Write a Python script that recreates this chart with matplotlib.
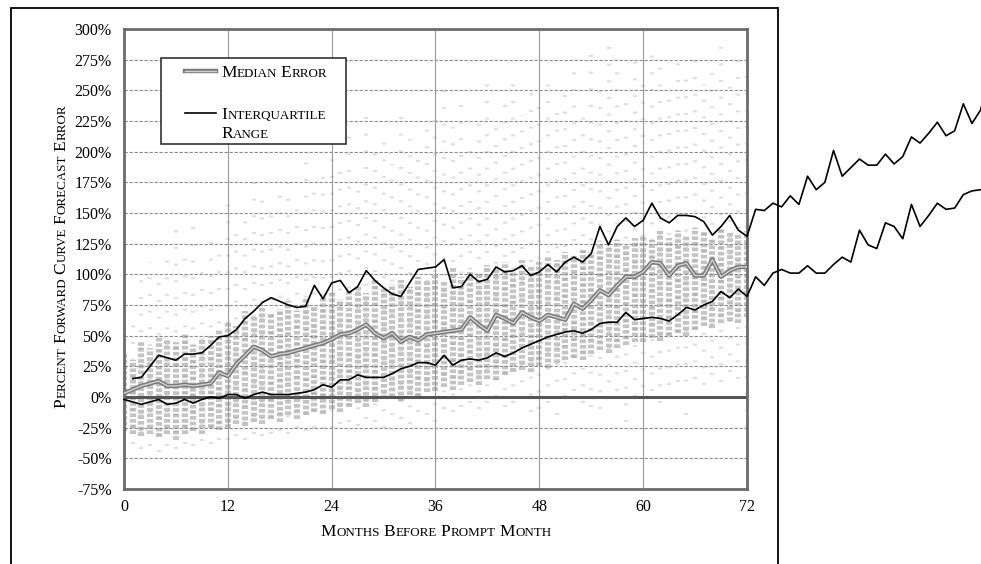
import numpy as np
import matplotlib
matplotlib.use('Agg')
import matplotlib.pyplot as plt
from matplotlib.patches import Rectangle
from matplotlib.ticker import FuncFormatter

# ---- data (percent forward curve forecast error) ----
months = np.arange(0, 73)
median_err = [3, 6, 9, 11, 13, 9, 9, 10, 9, 10,
              11, 20, 17, 27, 34, 41, 38, 33, 35, 36,
              38, 40, 42, 44, 47, 51, 52, 55, 59, 52,
              48, 52, 45, 49, 46, 51, 52, 53, 54, 55,
              65, 59, 54, 67, 64, 60, 69, 65, 62, 67,
              65, 63, 76, 72, 79, 87, 83, 91, 98, 98,
              102, 110, 109, 99, 107, 109, 99, 99, 112, 98,
              103, 106, 106]

upper_months = np.arange(1, 101)
iqr_upper = [15, 16, 25, 34, 32, 30, 35, 35, 36, 42,
             49, 50, 55, 64, 70, 77, 81, 78, 75, 73,
             74, 91, 80, 93, 95, 85, 90, 103, 95, 89,
             84, 82, 93, 104, 105, 106, 112, 89, 90, 100,
             94, 96, 106, 102, 103, 107, 99, 102, 108, 102,
             110, 114, 110, 117, 139, 124, 139, 146, 139, 144,
             158, 146, 142, 148, 148, 147, 143, 132, 139, 148,
             136, 131, 153, 152, 158, 155, 164, 157, 180, 169,
             175, 201, 180, 187, 194, 189, 189, 198, 190, 196,
             212, 207, 215, 224, 213, 217, 239, 223, 234, 262]

lower_months = np.arange(0, 101)
iqr_lower = [-2, -4, -6, -4, -2, -6, -5, -2, -5, -2,
             0, -1, 2, 2, -1, 2, 4, 2, 2, 2,
             3, 4, 6, 10, 8, 14, 14, 18, 16, 16,
             16, 19, 23, 25, 28, 28, 26, 34, 26, 30,
             31, 30, 32, 36, 33, 36, 40, 43, 46, 49,
             51, 53, 54, 52, 55, 60, 61, 61, 69, 63,
             64, 65, 64, 62, 67, 73, 71, 75, 78, 86,
             81, 88, 82, 98, 91, 101, 104, 101, 101, 107,
             101, 101, 108, 114, 110, 136, 124, 121, 142, 139,
             129, 157, 139, 148, 158, 153, 154, 165, 168, 169, 169]

# extent of the dense columns of individual errors and of the sparse points
core_lo = [-28, -30, -32, -30, -33, -30, -35, -30, -28, -30, -25, -27,
           -25, -22, -24, -20, -22, -18, -20, -15, -18, -15, -12, -14,
           -10, -12, -8, -5, -8, -4, -2, 0, -3, 2, 0, 4,
           5, 8, 6, 10, 12, 10, 15, 14, 18, 20, 22, 20,
           25, 24, 28, 30, 32, 30, 35, 38, 36, 40, 42, 45,
           45, 48, 46, 50, 52, 50, 55, 58, 56, 60, 62, 60, 65]
core_hi = [35, 30, 45, 40, 50, 48, 45, 52, 42, 48, 50, 55,
           60, 58, 70, 65, 75, 68, 72, 78, 70, 80, 75, 82,
           85, 80, 88, 90, 85, 95, 88, 92, 95, 90, 98, 95,
           100, 95, 105, 98, 102, 100, 108, 105, 110, 102, 112, 108,
           110, 115, 112, 118, 115, 120, 118, 125, 122, 128, 125, 130,
           132, 128, 135, 130, 135, 132, 138, 135, 130, 138, 135, 132, 135]
spread_lo = [-40, -38, -42, -40, -45, -40, -42, -38, -40, -36, -38, -35,
             -35, -32, -35, -30, -32, -30, -28, -30, -25, -28, -25, -26,
             -25, -22, -20, -24, -18, -20, -25, -15, -18, -22, -12, -15,
             -20, -10, -12, -8, -5, -10, -5, 0, -8, -5, -2, -12,
             -10, -5, -15, 0, 5, -5, -8, -10, -2, 5, -20, 0,
             8, 5, -5, 10, 12, -15, 15, 10, 18, 12, 20, 15, -25]
spread_hi = [85, 70, 95, 110, 100, 120, 140, 115, 150, 105, 130, 125,
             160, 140, 150, 175, 165, 160, 170, 185, 160, 200, 175, 180,
             210, 195, 220, 180, 230, 200, 215, 190, 240, 210, 195, 225,
             230, 250, 220, 245, 210, 235, 255, 225, 240, 260, 230, 250,
             245, 265, 235, 255, 270, 240, 280, 255, 290, 265, 250, 275,
             260, 285, 270, 250, 275, 260, 280, 255, 270, 285, 260, 275, 265]

y_ticks = np.arange(-75, 301, 25)
x_ticks = np.arange(0, 73, 12)

plt.rcParams['font.family'] = ['Liberation Serif', 'DejaVu Serif']

W, H = 981, 564
fig = plt.figure(figsize=(W / 100, H / 100), dpi=100)
ax = fig.add_axes([124 / W, (H - 489) / H, 623 / W, 460 / H])

BIG, SMALL = 12.5, 9.4


def smallcaps(s, rot=0, gap=3.5):
    # fake small caps: first letter big, rest of the word in small capitals
    pieces = []
    for i, word in enumerate(s.split()):
        lead = fig.text(0, 0, word[0], fontsize=BIG, rotation=rot,
                        rotation_mode='anchor', ha='left', va='baseline')
        pieces.append((lead, gap if i else 0.0))
        if len(word) > 1:
            rest = fig.text(0, 0, word[1:].upper(), fontsize=SMALL, rotation=rot,
                            rotation_mode='anchor', ha='left', va='baseline')
            pieces.append((rest, 0.4))
    return pieces


def place(pieces, x, y, ha='center', rot=0):
    # x, y in figure pixels: the baseline (or baseline column when rotated)
    r = fig.canvas.get_renderer()
    sizes = []
    for t, g in pieces:
        bb = t.get_window_extent(r)
        sizes.append(bb.height if rot else bb.width)
    total = sum(sizes) + sum(g for _, g in pieces)
    pos = (y if rot else x) - (total / 2 if ha == 'center' else 0)
    for (t, g), s in zip(pieces, sizes):
        pos += g
        if rot:
            t.set_position((x / W, pos / H))
        else:
            t.set_position((pos / W, y / H))
        pos += s


# grid
for yv in y_ticks:
    ax.axhline(yv, color='#8c8c8c', lw=0.8, ls=(0, (3, 1.5)), zorder=1)
for xv in x_ticks[1:-1]:
    ax.axvline(xv, color='#999999', lw=0.8, zorder=1)

# individual forecast errors
ax.vlines(months, spread_lo, spread_hi, colors='#9a9a9a', alpha=0.3,
          linewidth=3, linestyles=[(0, (0.5, 3.5))], zorder=2)
ax.vlines(months, core_lo, core_hi, colors='#8a8a8a', alpha=0.5,
          linewidth=4.5, linestyles=[(0, (0.6, 0.3))], zorder=2)

ax.axhline(0, color='#555555', lw=2.2, zorder=2.5)

# median error (grey double line) and interquartile range
ax.plot(months, median_err, color='#7a7a7a', lw=3.2, zorder=3)
ax.plot(months, median_err, color='#d2d2d2', lw=1.0, zorder=3.1)
ax.plot(upper_months, iqr_upper, color='black', lw=1.2, zorder=4, clip_on=False)
ax.plot(lower_months, iqr_lower, color='black', lw=1.2, zorder=4, clip_on=False)

ax.set_xlim(0, 72)
ax.set_ylim(-75, 300)
ax.set_xticks(x_ticks)
ax.set_yticks(y_ticks)
ax.yaxis.set_major_formatter(FuncFormatter(lambda v, p: f'{int(v)}%'))
ax.tick_params(length=0, labelsize=11.5)
ax.tick_params(axis='y', pad=9)
ax.tick_params(axis='x', pad=7)
for sp in ax.spines.values():
    sp.set_color('#6b6b6b')
    sp.set_linewidth(2)

# legend drawn by hand
ax.add_patch(Rectangle((0.0594, 0.75), 0.2969, 0.187, transform=ax.transAxes,
                       facecolor='white', edgecolor='#333333', lw=1.2, zorder=5))
ax.plot([0.098, 0.148], [0.9087, 0.9087], transform=ax.transAxes,
        color='#7a7a7a', lw=3.2, zorder=6)
ax.plot([0.098, 0.148], [0.9087, 0.9087], transform=ax.transAxes,
        color='#d2d2d2', lw=1.0, zorder=6.1)
ax.plot([0.098, 0.148], [0.8174, 0.8174], transform=ax.transAxes,
        color='black', lw=1.2, zorder=6)

lg1 = smallcaps('Median Error')
lg2 = smallcaps('Interquartile')
lg3 = smallcaps('Range')
xl = smallcaps('Months Before Prompt Month')
yl = smallcaps('Percent Forward Curve Forecast Error', rot=90)

# outer frame of the scanned figure
fig.add_artist(Rectangle((11 / W, -0.05), (778 - 11) / W, 1.05 - 8 / H,
                         transform=fig.transFigure, fill=False,
                         edgecolor='black', lw=1.3))

fig.canvas.draw()
cap = 5.7  # half cap height of the big letters, pixels
place(lg1, 221, H - 71 - cap, ha='left')
place(lg2, 221, H - 113 - cap, ha='left')
place(lg3, 221, H - 132 - cap, ha='left')
place(xl, 436, H - 530 - cap)
place(yl, 60 + cap, H - 256, rot=90)

fig.savefig('out.png', dpi=100)
